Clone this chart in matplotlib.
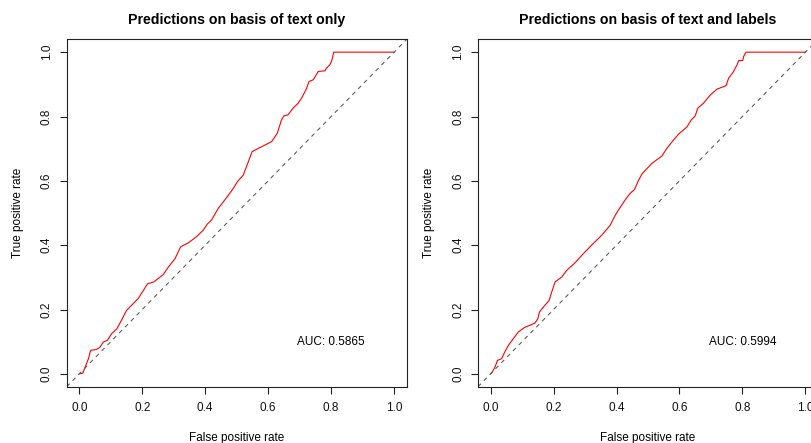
from matplotlib import pyplot as plt

plt.rcParams['font.family'] = ['Liberation Sans', 'DejaVu Sans']

# ROC curve, model trained on the text alone
fpr_text = [0.0, 0.011, 0.029, 0.036, 0.055, 0.066, 0.076, 0.089, 0.103, 0.119,
	0.131, 0.150, 0.166, 0.187, 0.217, 0.237, 0.267, 0.283, 0.304, 0.322,
	0.346, 0.372, 0.394, 0.406, 0.420, 0.441, 0.468, 0.489, 0.502, 0.521,
	0.531, 0.549, 0.579, 0.611, 0.629, 0.642, 0.650, 0.663, 0.679, 0.695,
	0.706, 0.720, 0.730, 0.743, 0.759, 0.780, 0.785, 0.796, 0.801, 0.804,
	0.808, 1.0]
tpr_text = [0.0, 0.002, 0.047, 0.073, 0.076, 0.083, 0.099, 0.104, 0.125, 0.140,
	0.161, 0.197, 0.213, 0.234, 0.280, 0.286, 0.309, 0.332, 0.358, 0.395,
	0.407, 0.426, 0.447, 0.465, 0.478, 0.514, 0.548, 0.576, 0.597, 0.618,
	0.644, 0.691, 0.706, 0.722, 0.748, 0.789, 0.802, 0.805, 0.826, 0.841,
	0.857, 0.883, 0.909, 0.914, 0.940, 0.942, 0.950, 0.961, 0.971, 0.981,
	1.0, 1.0]
auc_text = 0.5865

# ROC curve, model trained on text and labels
fpr_labels = [0.0, 0.005, 0.014, 0.022, 0.035, 0.042, 0.056, 0.072, 0.088, 0.109,
	0.125, 0.141, 0.150, 0.155, 0.168, 0.186, 0.194, 0.205, 0.226, 0.242,
	0.268, 0.295, 0.321, 0.353, 0.380, 0.393, 0.406, 0.427, 0.443, 0.457,
	0.470, 0.482, 0.512, 0.544, 0.560, 0.581, 0.597, 0.624, 0.637, 0.650,
	0.658, 0.676, 0.698, 0.719, 0.735, 0.748, 0.756, 0.770, 0.783, 0.788,
	0.801, 0.804, 0.811, 1.0]
tpr_labels = [0.0, 0.005, 0.021, 0.042, 0.047, 0.062, 0.088, 0.109, 0.130, 0.145,
	0.151, 0.158, 0.171, 0.192, 0.208, 0.228, 0.254, 0.286, 0.301, 0.322,
	0.345, 0.374, 0.400, 0.431, 0.462, 0.488, 0.509, 0.540, 0.561, 0.573,
	0.602, 0.623, 0.654, 0.677, 0.701, 0.727, 0.745, 0.768, 0.789, 0.802,
	0.826, 0.841, 0.867, 0.885, 0.891, 0.896, 0.919, 0.937, 0.961, 0.974,
	0.974, 0.987, 1.0, 1.0]
auc_labels = 0.5994

ticks = [0.0, 0.2, 0.4, 0.6, 0.8, 1.0]

W, H = 812, 443
fig = plt.figure(figsize=(W/100, H/100), dpi=100)

# plot boxes in pixels: width, height, top edge
box_w, box_h = 340, 347.4
box_top = 39.3


def roc_panel(left, fpr, tpr, auc, title):
	ax = fig.add_axes([left/W, 1 - (box_top + box_h)/H, box_w/W, box_h/H])
	ax.set_xlim(-0.04, 1.04)
	ax.set_ylim(-0.04, 1.04)

	ax.plot(fpr, tpr, color='#ff0000', linewidth=0.8)
	ax.axline((0, 0), slope=1, color='#555555', linewidth=0.75, linestyle=(0, (4, 4)))

	ax.text(0.8, 0.1, f'AUC: {auc:.4f}', ha='center', va='center', fontsize=8.5)

	for s in ax.spines.values():
		s.set_linewidth(0.8)
		s.set_color('#222222')
	ax.set_xticks(ticks)
	ax.set_yticks(ticks)
	ax.set_xticklabels([f'{t:.1f}' for t in ticks])
	ax.set_yticklabels([f'{t:.1f}' for t in ticks], rotation=90, va='center')
	ax.tick_params(direction='out', length=5, width=0.8, color='#222222',
		labelsize=8.5, labelcolor='#111111')
	ax.tick_params(axis='x', pad=6)
	ax.tick_params(axis='y', pad=5)

	ax.text(0.5, 1 + 19/box_h, title, transform=ax.transAxes,
		ha='center', va='center', fontsize=10.2, fontweight='bold')
	ax.text(0.5, -51/box_h, 'False positive rate', transform=ax.transAxes,
		ha='center', va='center', fontsize=8.5)
	ax.text(-49/box_w, 0.5, 'True positive rate', transform=ax.transAxes,
		ha='center', va='center', rotation=90, fontsize=8.5)
	return ax


roc_panel(66.7, fpr_text, tpr_text, auc_text, 'Predictions on basis of text only')
roc_panel(478, fpr_labels, tpr_labels, auc_labels, 'Predictions on basis of text and labels')

fig.savefig('out.png', dpi=100)
plt.close(fig)
